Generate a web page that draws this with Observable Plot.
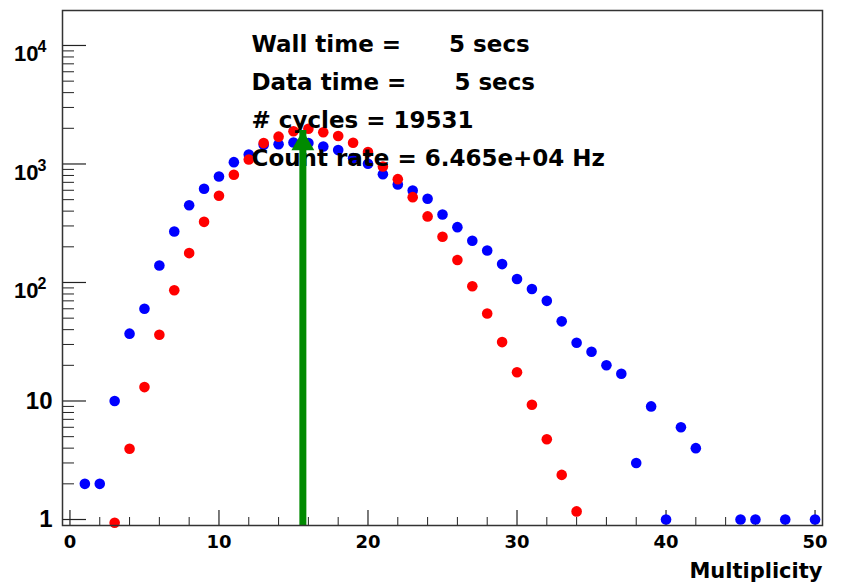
<!DOCTYPE html>
<html><head><meta charset="utf-8">
<script src="https://cdn.jsdelivr.net/npm/d3@7"></script>
<script src="https://cdn.jsdelivr.net/npm/@observablehq/plot@0.6"></script>
<style>
html,body{margin:0;padding:0;background:#fff;}
svg text{white-space:pre;}
</style></head><body><div id="chart"></div>
<script>
// Blue histogram (measured counts)
const blueX = [1,2,3,4,5,6,7,8,9,10,11,12,13,14,15,16,17,18,19,20,21,22,23,24,25,26,27,28,29,30,31,32,33,34,35,36,37,38,39,40,41,42,45,46,48,50];
const blueCounts = [2,2,10,37,60,139,269,449,618,785,1036,1200,1450,1470,1520,1500,1406,1310,1120,1004,820,671,598,509,375,293,225,186,143,107,88,70,47,31,26,20,17,3,9,1,6,4,1,1,1,1];
// Red histogram (scaled reference distribution)
const redX = [3,4,5,6,7,8,9,10,11,12,13,14,15,16,17,18,19,20,21,22,23,24,25,26,27,28,29,30,31,32,33,34];
const redValues = [0.94,3.95,13.1,36.2,86,177,325,539,811,1090,1500,1700,1890,1980,1855,1720,1510,1260,953,745,525,361,243,155,93,54.8,31.4,17.5,9.29,4.76,2.38,1.17];
// Mean marker (green arrow)
const meanMultiplicity = [15.63];
const arrowTop = 1918;
// Info text
const infoLines = ["Wall time =      5 secs", "Data time =      5 secs", "# cycles = 19531", "Count rate = 6.465e+04 Hz"];
const xTitle = "Multiplicity";
// Axes
const xDomain = [-0.5, 50.5];
const yDomain = [0.89, 19730];
const xMajorTicks = [0,10,20,30,40,50];
const xMinorTicks = [2,4,6,8,12,14,16,18,22,24,26,28,32,34,36,38,42,44,46,48];
const yMajorTicks = [1,10,100,1000,10000];
const yTickLabels = ["1","10","10^2","10^3","10^4"];
const yMinorTicks = [2,3,4,5,6,7,8,9,20,30,40,50,60,70,80,90,200,300,400,500,600,700,800,900,2000,3000,4000,5000,6000,7000,8000,9000];

const blueData = blueX.map((x,i)=>({x, v: blueCounts[i]}));
const redData = redX.map((x,i)=>({x, v: redValues[i]}));
const frameW = 842-62-20, frameH = 586-10-61;
const green = "#008a00";
const tickColor = "#222";

const plot = Plot.plot({
  width: 842, height: 586,
  marginLeft: 62, marginRight: 20, marginTop: 10, marginBottom: 61,
  style: {fontFamily: "'DejaVu Sans', sans-serif", fontWeight: "bold", background: "white", color: "black", overflow: "visible"},
  x: {domain: xDomain},
  y: {type: "log", domain: yDomain},
  marks: [
    Plot.tickY(yMinorTicks, {y: d=>d, insetRight: frameW-12, stroke: tickColor, strokeWidth: 1}),
    Plot.tickY(yMajorTicks, {y: d=>d, insetRight: frameW-24, stroke: tickColor, strokeWidth: 1.2}),
    Plot.tickX(xMinorTicks, {x: d=>d, insetTop: frameH-8, stroke: tickColor, strokeWidth: 1}),
    Plot.tickX(xMajorTicks, {x: d=>d, insetTop: frameH-15, stroke: tickColor, strokeWidth: 1.2}),
    Plot.axisX({ticks: xMajorTicks, tickSize: 0, tickPadding: 10, fontSize: 18, fontWeight: "bold", tickFormat: d=>String(d), label: null, fill: "black"}),
    Plot.axisY({ticks: yMajorTicks, tickSize: 0, tickPadding: 10, fontSize: 24, fontWeight: "bold", fontFamily: "'Liberation Sans', Arial, sans-serif", tickFormat: d=>yTickLabels[yMajorTicks.indexOf(d)], label: null, fill: "black"}),
    Plot.dot(blueData, {x: "x", y: "v", r: 5.3, fill: "#0000ff"}),
    Plot.dot(redData, {x: "x", y: "v", r: 5.3, fill: "#ff0000"}),
    Plot.text([infoLines.join("\n")], {text: d=>d, frameAnchor: "top-left", textAnchor: "start", lineAnchor: "top", lineHeight: 1.66, dx: 189, dy: 14, fontSize: 23, fontWeight: "bold", fill: "black"}),
    Plot.text([xTitle], {text: d=>d, frameAnchor: "bottom-right", textAnchor: "end", lineAnchor: "middle", dy: 46, fontSize: 21, fontWeight: "bold", fill: "black"}),
    Plot.ruleX(meanMultiplicity, {x: d=>d, y1: ()=>yDomain[0], y2: ()=>arrowTop, stroke: green, strokeWidth: 7}),
    Plot.dot(meanMultiplicity, {x: d=>d, y: ()=>arrowTop, symbol: "triangle", r: 8.5, dy: 13.3, fill: green}),
    Plot.frame({stroke: "#333", strokeWidth: 1.5})
  ]
});

// Superscript exponents on the log-axis labels
const ns = "http://www.w3.org/2000/svg";
plot.querySelectorAll("text").forEach(t => {
  const m = /^(\d+)\^(\d+)$/.exec(t.textContent);
  if (!m) return;
  t.textContent = "";
  const a = document.createElementNS(ns, "tspan");
  a.textContent = m[1];
  a.setAttribute("dy", "8");
  a.setAttribute("font-size", "22");
  const b = document.createElementNS(ns, "tspan");
  b.textContent = m[2];
  b.setAttribute("dy", "-9");
  b.setAttribute("dx", "-1");
  b.setAttribute("font-size", "16");
  t.appendChild(a); t.appendChild(b);
  t.setAttribute("transform", (t.getAttribute("transform") || "") + " translate(-6,0)");
});

document.getElementById("chart").appendChild(plot);
</script></body></html>
